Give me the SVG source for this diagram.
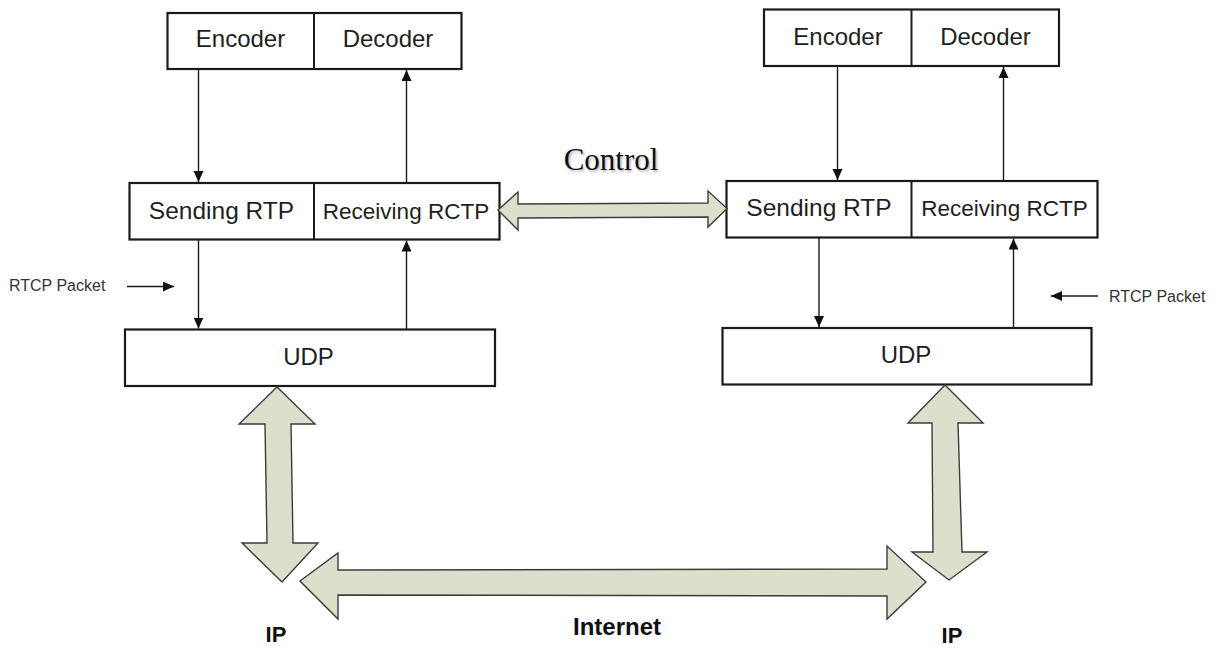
<svg xmlns="http://www.w3.org/2000/svg" width="1219" height="648" viewBox="0 0 1219 648">
  <style>
    .box { fill: #ffffff; stroke: #1a1a1a; stroke-width: 2.2; }
    .div { stroke: #1a1a1a; stroke-width: 2; }
    .lbl { font-family: "Liberation Sans", Arial, sans-serif; fill: #1e1e1e; text-anchor: middle; }
    .small { font-family: "Liberation Sans", Arial, sans-serif; fill: #333333; font-size: 16px; }
    .bold { font-family: "Liberation Sans", Arial, sans-serif; font-weight: bold; fill: #111111; text-anchor: middle; }
    .wire { stroke: #1a1a1a; stroke-width: 1.4; fill: none; marker-end: url(#tip); }
    .fat { fill: #dcdfcb; stroke: #3c3c3c; stroke-width: 1.4; stroke-linejoin: miter; }
  </style>
  <defs>
    <marker id="tip" markerUnits="userSpaceOnUse" markerWidth="11" markerHeight="11" refX="11" refY="5" orient="auto">
      <path d="M0,0 L11,5 L0,10 z" fill="#111111"/>
    </marker>
    <filter id="soft" x="-10%" y="-20%" width="130%" height="150%">
      <feGaussianBlur stdDeviation="1"/>
    </filter>
  </defs>

  <rect width="1219" height="648" fill="#ffffff"/>

  <!-- left host -->
  <g id="left-codec">
    <rect class="box" x="167.5" y="13" width="294" height="56"/>
    <line class="div" x1="314" y1="13" x2="314" y2="69"/>
    <text class="lbl" x="240.5" y="47" font-size="24">Encoder</text>
    <text class="lbl" x="388" y="47" font-size="24">Decoder</text>
  </g>
  <g id="left-rtp">
    <rect class="box" x="129.5" y="183" width="370" height="56.5"/>
    <line class="div" x1="314" y1="183" x2="314" y2="239.5"/>
    <text class="lbl" x="221.5" y="218.5" font-size="24.5">Sending RTP</text>
    <text class="lbl" x="406" y="218.5" font-size="22.5">Receiving RCTP</text>
  </g>
  <g id="left-udp">
    <rect class="box" x="125" y="329.5" width="370" height="56.5"/>
    <text class="lbl" x="308.5" y="365" font-size="24">UDP</text>
  </g>
  <g id="left-rtcp-label">
    <text class="small" x="9" y="291">RTCP Packet</text>
  </g>

  <!-- right host -->
  <g id="right-codec">
    <rect class="box" x="764" y="9.5" width="295" height="56.5"/>
    <line class="div" x1="911.5" y1="9.5" x2="911.5" y2="66"/>
    <text class="lbl" x="838" y="45" font-size="24">Encoder</text>
    <text class="lbl" x="985.5" y="45" font-size="24">Decoder</text>
  </g>
  <g id="right-rtp">
    <rect class="box" x="726.5" y="181" width="371" height="56.5"/>
    <line class="div" x1="911.5" y1="181" x2="911.5" y2="237.5"/>
    <text class="lbl" x="819" y="215.5" font-size="24.5">Sending RTP</text>
    <text class="lbl" x="1004.5" y="215.5" font-size="22.5">Receiving RCTP</text>
  </g>
  <g id="right-udp">
    <rect class="box" x="722.5" y="328" width="369" height="56.5"/>
    <text class="lbl" x="906" y="363" font-size="24">UDP</text>
  </g>
  <g id="right-rtcp-label">
    <text class="small" x="1109" y="302">RTCP Packet</text>
  </g>

  <!-- control link label -->
  <g id="control-label">
    <text x="612.5" y="171.5" font-family="'Liberation Serif', 'Times New Roman', serif" font-size="31" text-anchor="middle" fill="#888888" opacity="0.6" filter="url(#soft)">Control</text>
    <text x="611" y="170" font-family="'Liberation Serif', 'Times New Roman', serif" font-size="31" text-anchor="middle" fill="#111111">Control</text>
  </g>

  <!-- bottom labels -->
  <g id="ip-left"><text class="bold" x="276" y="642" font-size="22">IP</text></g>
  <g id="ip-right"><text class="bold" x="952" y="643" font-size="22">IP</text></g>
  <g id="internet"><text class="bold" x="617" y="635" font-size="24">Internet</text></g>

  <!-- connectors -->
  <g id="connectors">
    <!-- left stack -->
    <line class="wire" x1="198.5" y1="69" x2="198.5" y2="182"/>
    <line class="wire" x1="406.5" y1="183" x2="406.5" y2="70"/>
    <line class="wire" x1="198.5" y1="239.5" x2="198.5" y2="328.5"/>
    <line class="wire" x1="406.5" y1="329.5" x2="406.5" y2="240.5"/>
    <line class="wire" x1="127" y1="286.5" x2="174" y2="286.5"/>
    <!-- right stack -->
    <line class="wire" x1="837.5" y1="66" x2="837.5" y2="180"/>
    <line class="wire" x1="1003.5" y1="181" x2="1003.5" y2="67"/>
    <line class="wire" x1="819" y1="237.5" x2="819" y2="327"/>
    <line class="wire" x1="1013.5" y1="328" x2="1013.5" y2="238.5"/>
    <line class="wire" x1="1098" y1="296" x2="1051" y2="296"/>

    <!-- control: double arrow between the RTP layers -->
    <polygon class="fat" points="498,210 518,192 518,204 708,203 708,191 727,208.5 708,227 708,217 518,218 518,230"/>
    <!-- left UDP to network -->
    <polygon class="fat" points="277,387 315,424 291,424 293,543 318,543 282,582 242,543 267,543 265,424 239,424"/>
    <!-- right UDP to network -->
    <polygon class="fat" points="945,385 983,423 958,423 962,552 987,552 949,580 912,552 933,552 932,423 908,423"/>
    <!-- internet link -->
    <polygon class="fat" points="300,581 338,553 338,570 887,569 887,546 926,582 887,619 887,596 338,595 338,619"/>
  </g>
</svg>
